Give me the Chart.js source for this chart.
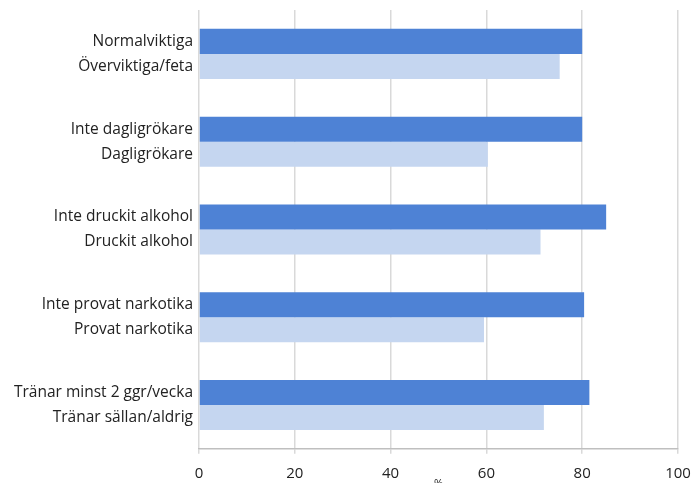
<!DOCTYPE html>
<html>
<head>
<meta charset="utf-8">
<script src="https://cdn.jsdelivr.net/npm/chart.js@4"></script>
<style>
  html, body { margin: 0; padding: 0; overflow: hidden; background: #fff; }
</style>
</head>
<body>
<canvas id="bar-chart" width="694" height="490"></canvas>
<script>
// labels: one pair per group, top bar then bottom bar
const topLabels = ['Normalviktiga', 'Inte dagligrökare', 'Inte druckit alkohol', 'Inte provat narkotika', 'Tränar minst 2 ggr/vecka']
const bottomLabels = ['Överviktiga/feta', 'Dagligrökare', 'Druckit alkohol', 'Provat narkotika', 'Tränar sällan/aldrig']
const topValues = [80, 80, 85, 80.4, 81.5]
const bottomValues = [75.3, 60.3, 71.3, 59.5, 72]
const xTicks = [0, 20, 40, 60, 80, 100]

let groupLabels = []
for (let i = 0; i < topLabels.length; i++) {
  groupLabels.push([topLabels[i], bottomLabels[i]])
}

const ctx = document.getElementById('bar-chart')
const barChart = new Chart(ctx, {
  type: 'bar',
  data: {
    labels: groupLabels,
    datasets: [{
      label: 'top',
      data: topValues,
      backgroundColor: 'rgb(78, 130, 213)',
      borderWidth: 0,
      barPercentage: 1,
      categoryPercentage: 0.57
    }, {
      label: 'bottom',
      data: bottomValues,
      backgroundColor: 'rgb(197, 214, 240)',
      borderWidth: 0,
      barPercentage: 1,
      categoryPercentage: 0.57
    }]
  },
  options: {
    indexAxis: 'y',
    responsive: false,
    animation: false,
    layout: {
      padding: { top: 10, right: 16, left: 0, bottom: 0 }
    },
    plugins: {
      legend: { display: false },
      tooltip: { enabled: false }
    },
    scales: {
      x: {
        min: 0,
        max: 100,
        afterBuildTicks: function (scale) {
          scale.ticks = xTicks.map(function (v) { return { value: v } })
        },
        afterFit: function (scale) {
          scale.paddingRight = 0
          scale.paddingLeft = 0
        },
        grid: {
          color: '#d9d9d9',
          lineWidth: 1.5,
          tickLength: 5,
          drawTicks: true
        },
        border: { color: '#bfbfbf', width: 1.5 },
        ticks: {
          color: '#222',
          padding: 11,
          font: { family: 'Open Sans', size: 15 }
        },
        title: {
          display: true,
          text: '%',
          color: '#222',
          padding: { top: -17, bottom: 0 },
          font: { family: 'Open Sans', size: 11 }
        }
      },
      y: {
        afterFit: function (scale) {
          scale.width = 199
          // multi-line labels would otherwise push the plot down
          scale.paddingTop = 0
          scale.paddingBottom = 0
        },
        grid: { display: false, drawTicks: false },
        border: { display: false },
        ticks: {
          color: '#222',
          padding: 6,
          font: { family: 'Open Sans', size: 15.5, lineHeight: '25px' }
        }
      }
    }
  }
})
</script>
</body>
</html>
